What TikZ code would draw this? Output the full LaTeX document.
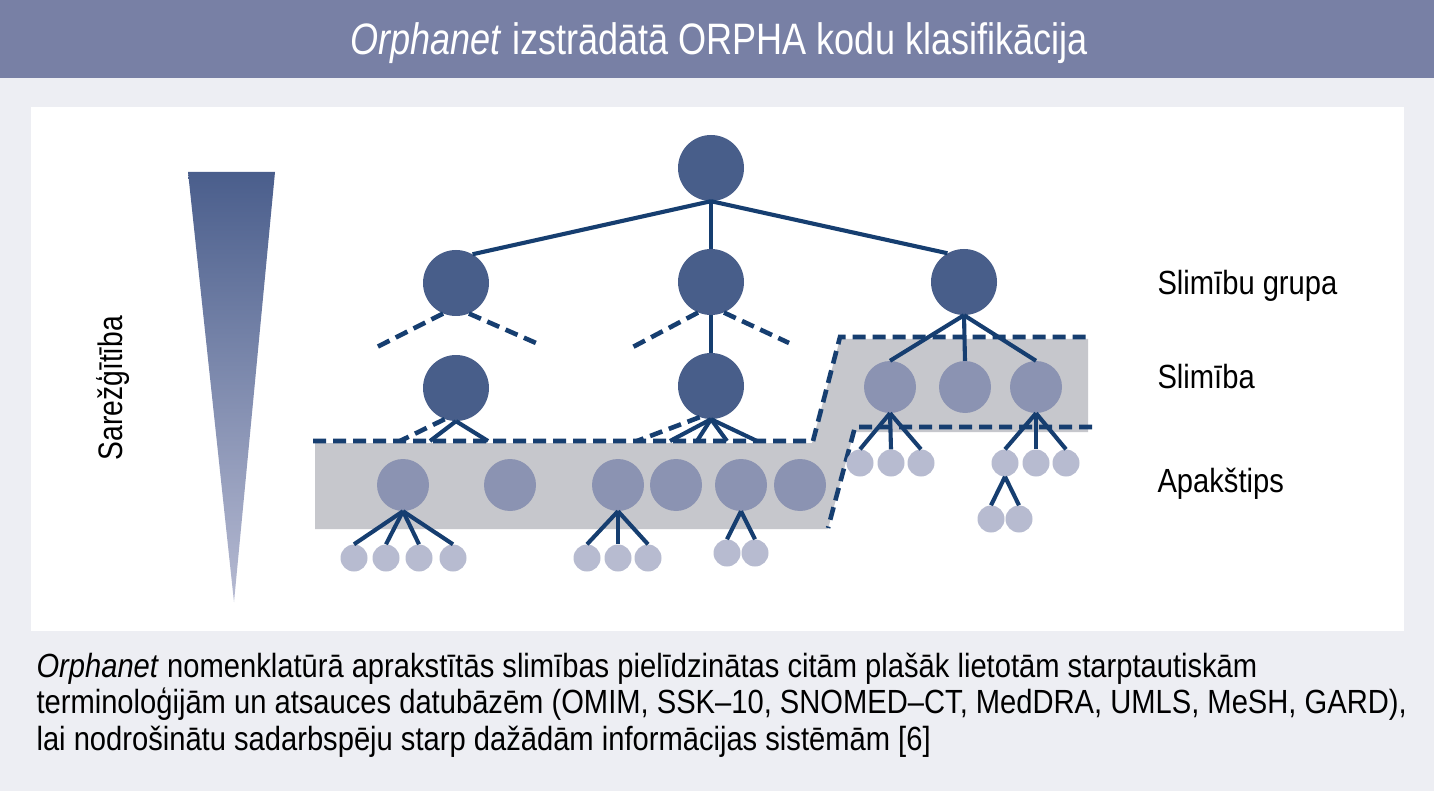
\documentclass[tikz,border=0pt]{standalone}
\usepackage{fontspec}
\setmainfont{Liberation Sans}[FakeStretch=0.87]
\newfontfamily\titlefont{Liberation Sans}[FakeStretch=0.82]
\newfontfamily\sidefont{Liberation Sans}[FakeStretch=0.83]
\usepackage{tikz}
\usetikzlibrary{positioning}

\definecolor{bgpale}{RGB}{237,238,243}
\definecolor{hdrblue}{RGB}{120,128,165}
\definecolor{nodedark}{RGB}{72,94,138}
\definecolor{nodemid}{RGB}{139,147,178}
\definecolor{nodelight}{RGB}{183,187,208}
\definecolor{linkblue}{RGB}{22,62,112}
\definecolor{bandgray}{RGB}{198,199,204}
\definecolor{tritop}{RGB}{74,94,140}
\definecolor{tribot}{RGB}{182,186,210}

\begin{document}
\begin{tikzpicture}[x=1pt,y=-1pt,
                    grp/.style={circle,fill=nodedark,inner sep=0pt,minimum size=66pt},
                    dis/.style={circle,fill=nodemid,inner sep=0pt,minimum size=52pt},
                    leaf/.style={circle,fill=nodelight,inner sep=0pt,minimum size=27pt},
                    link/.style={draw=linkblue,line width=4.1pt},
                    dlink/.style={draw=linkblue,line width=4.6pt,dash pattern=on 13pt off 7pt},
                    lbl/.style={anchor=base west,font=\fontsize{33.5}{36}\selectfont}]
                % background, header and panel
                \fill[bgpale] (0,0) rectangle (1434,791);
                \useasboundingbox (0,0) rectangle (1434,791);
                \fill[hdrblue] (0,0) rectangle (1434,78);
                \fill[white] (31,107) rectangle (1404,631);
                \node [anchor=base,text=white,font=\titlefont\fontsize{44}{48}\selectfont]
                      (title) at (719,55) {\textit{Orphanet} izstrādātā ORPHA kodu klasifikācija};

                % complexity wedge
                \shade[top color=tritop,bottom color=tribot] (188,172) -- (275,172) -- (234,602) -- cycle;
                \node [rotate=90,font=\sidefont\fontsize{34}{36}\selectfont] (cmplx) at (113,388) {Sarežģītība};

                % grey bands
                \fill[bandgray] (315,443) -- (812,443) -- (840,339) -- (1088,339) -- (1088,432)
                      -- (854,432) -- (828,529) -- (315,529) -- cycle;
                \draw[dlink] (313,441) -- (813,441) -- (840,337) -- (1090,337);
                \draw[dlink] (1092,427) -- (855,427) -- (828,528);

                % groups and diseases
                \node [grp]  (top)   at (711,168) {};
                \node [grp]  (grpA)  at (456,283) {};
                \node [grp]  (grpB)  at (711,282) {};
                \node [grp]  (grpC)  at (964,282) {};
                \node [grp]  (disA)  at (456,388) {};
                \node [grp]  (disB)  at (711,386) {};
                \node [dis]  (disC1) at (890,387) {};
                \node [dis]  (disC2) at (965,387) {};
                \node [dis]  (disC3) at (1036,387) {};

                % subtypes
                \node [dis]  (subA1) at (403,485) {};
                \node [dis]  (subA2) at (510,485) {};
                \node [dis]  (subB1) at (618,485) {};
                \node [dis]  (subB2) at (676,485) {};
                \node [dis]  (subB3) at (741,485) {};
                \node [dis]  (subB4) at (800,485) {};

                % leaves
                \node [leaf] (lfA1) at (354,558) {};
                \node [leaf] (lfA2) at (386,558) {};
                \node [leaf] (lfA3) at (419,558) {};
                \node [leaf] (lfA4) at (453,558) {};
                \node [leaf] (lfB1) at (587,558) {};
                \node [leaf] (lfB2) at (618,558) {};
                \node [leaf] (lfB3) at (648,558) {};
                \node [leaf] (lfB4) at (727,553) {};
                \node [leaf] (lfB5) at (755,553) {};
                \node [leaf] (lfC1) at (860,463) {};
                \node [leaf] (lfC2) at (891,463) {};
                \node [leaf] (lfC3) at (921,463) {};
                \node [leaf] (lfC4) at (1005,463) {};
                \node [leaf] (lfC5) at (1036,463) {};
                \node [leaf] (lfC6) at (1066,463) {};
                \node [leaf] (lfC7) at (991,519) {};
                \node [leaf] (lfC8) at (1019,519) {};

                % loose ends
                \coordinate (stubA1) at (377,347);
                \coordinate (stubA2) at (536,343);
                \coordinate (stubB1) at (631,348);
                \coordinate (stubB2) at (789,343);
                \coordinate (endA0) at (400,441);
                \coordinate (endA1) at (430,441);
                \coordinate (endA2) at (488,441);
                \coordinate (endB0) at (637,441);
                \coordinate (endB1) at (670,441);
                \coordinate (endB2) at (697,441);
                \coordinate (endB3) at (727,441);
                \coordinate (endB4) at (757,441);

                \path[link] (top.south) edge (grpA.60) edge (grpB.north) edge (grpC.120)
                            (grpB.south) edge (disB.north)
                            (grpC.south) edge (disC1.north) edge (disC2.north) edge (disC3.north)
                            (disC1.south) edge (lfC1.north) edge (lfC2.north) edge (lfC3.north)
                            (disC3.south) edge (lfC4.north) edge (lfC5.north) edge (lfC6.north)
                            (lfC4.south) edge (lfC7.north) edge (lfC8.north)
                            (subA1.south) edge (lfA1.north) edge (lfA2.north) edge (lfA3.north) edge (lfA4.north)
                            (subB1.south) edge (lfB1.north) edge (lfB2.north) edge (lfB3.north)
                            (subB3.south) edge (lfB4.north) edge (lfB5.north)
                            (disA.south) edge (endA1) edge (endA2)
                            (disB.south) edge (endB1) edge (endB2) edge (endB3) edge (endB4);
                \path[dlink] (grpA.247) edge (stubA1)
                             (grpA.293) edge (stubA2)
                             (grpB.247) edge (stubB1)
                             (grpB.293) edge (stubB2)
                             (disA.250) edge (endA0)
                             (disB.250) edge (endB0);

                % level names
                \node [lbl] (lvlGroup) at (1154,295) {Slimību grupa};
                \node [lbl] (lvlDis)   at (1154,388) {Slimība};
                \node [lbl] (lvlSub)   at (1154,492) {Apakštips};

                % caption
                \node [lbl] (cap1) at (33,677) {\textit{Orphanet} nomenklatūrā aprakstītās slimības pielīdzinātas citām plašāk lietotām starptautiskām};
                \node [lbl] (cap2) at (33,713) {terminoloģijām un atsauces datubāzēm (OMIM, SSK–10, SNOMED–CT, MedDRA, UMLS, MeSH, GARD),};
                \node [lbl] (cap3) at (33,750) {lai nodrošinātu sadarbspēju starp dažādām informācijas sistēmām [6]};
            \end{tikzpicture}
\end{document}
